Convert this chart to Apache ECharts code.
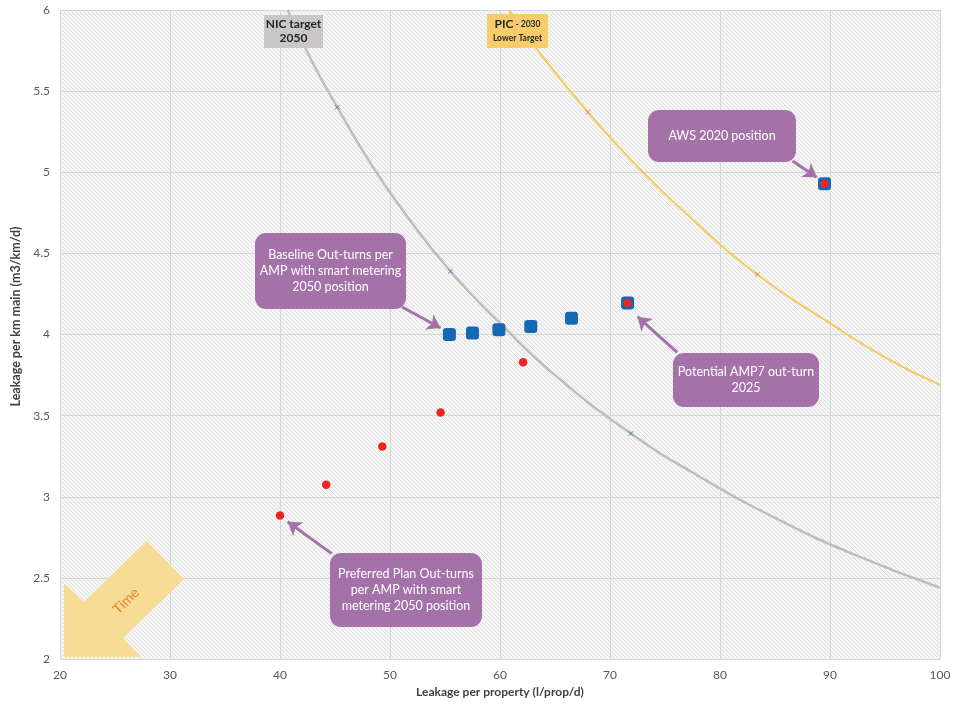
<!DOCTYPE html>
<html>
<head>
<meta charset="utf-8">
<title>Leakage positions</title>
<script src="https://cdn.jsdelivr.net/npm/echarts@6/dist/echarts.min.js"></script>
<style>
  html, body { margin: 0; padding: 0; background: #fff; }
  #main { width: 961px; height: 703px; }
</style>
</head>
<body>
<div id="main"></div>
<script>
// NIC target 2050 curve
var nicX = [40.7, 43, 45.3, 48, 51, 55.5, 60, 65, 71.9, 78, 85, 92, 100];
var nicY = [6.0, 5.67, 5.39, 5.08, 4.78, 4.39, 4.07, 3.75, 3.39, 3.13, 2.87, 2.65, 2.44];
var nicMarkX = [45.2, 55.5, 71.9];
var nicMarkY = [5.40, 4.39, 3.39];

// PIC 2030 lower target curve (yellow line)
var picX = [60.8, 64, 68, 72, 77, 83.4, 90, 95, 100];
var picY = [6.0, 5.70, 5.37, 5.07, 4.74, 4.37, 4.07, 3.86, 3.69];
var picMarkX = [68.0, 83.4];
var picMarkY = [5.37, 4.37];

// Baseline out-turns (blue squares)
var baseX = [55.4, 57.5, 59.9, 62.8, 66.5, 71.6, 89.5];
var baseY = [4.00, 4.01, 4.03, 4.05, 4.10, 4.195, 4.93];

// Preferred plan out-turns (red dots)
var prefX = [40.0, 44.2, 49.3, 54.6, 62.1, 71.6, 89.5];
var prefY = [2.885, 3.075, 3.31, 3.52, 3.83, 4.195, 4.93];

function pairs(xs, ys) {
	var out = [];
	for (var i = 0; i < xs.length; i++) out.push([xs[i], ys[i]]);
	return out;
}

// hatched plot background
var tile = document.createElement('canvas');
tile.width = 4; tile.height = 4;
var tc = tile.getContext('2d');
tc.fillStyle = '#f6f6f6';
tc.fillRect(0, 0, 4, 4);
tc.strokeStyle = '#dedede';
tc.lineWidth = 1;
tc.beginPath();
tc.moveTo(-1, -1); tc.lineTo(5, 5);
tc.moveTo(-1, 3); tc.lineTo(1, 5);
tc.moveTo(3, -1); tc.lineTo(5, 1);
tc.stroke();

var purple = '#a472a8';
var font = 'Lato, "Open Sans", sans-serif';
var cross = 'path://M0,1L1,0L5,4L9,0L10,1L6,5L10,9L9,10L5,6L1,10L0,9L4,5Z';

// purple callout: rounded box plus centred white text
function box(x, y, w, h, text) {
	return [
		{
			type: 'rect', z: 100,
			shape: {x: x, y: y, width: w, height: h, r: 11},
			style: {fill: purple}
		},
		{
			type: 'text', z: 101, x: x + w / 2, y: y + h / 2,
			style: {
				text: text, fill: '#fff', font: '12.5px ' + font,
				align: 'center', verticalAlign: 'middle', lineHeight: 16
			}
		}
	];
}

// arrows pointing at the marks, in data coordinates
var arrows = [
	[[86.6, 5.07], [88.8, 4.97]],
	[[51.1, 4.17], [54.6, 4.04]],
	[[76.1, 3.89], [72.5, 4.11]],
	[[44.7, 2.65], [40.7, 2.846]]
];

var chart = echarts.init(document.getElementById('main'));
var option = {
	backgroundColor: '#fff',
	animation: false,
	textStyle: {fontFamily: font},
	grid: {
		left: 60, right: 21, top: 10, bottom: 42,
		show: true, borderWidth: 0,
		backgroundColor: {image: tile, repeat: 'repeat'}
	},
	xAxis: {
		type: 'value', min: 20, max: 100, interval: 10,
		name: 'Leakage per property (l/prop/d)',
		nameLocation: 'middle', nameGap: 24,
		nameTextStyle: {fontWeight: 'bold', fontSize: 12, color: '#404040'},
		axisLine: {show: false}, axisTick: {show: false},
		axisLabel: {color: '#595959', fontSize: 12, margin: 10},
		splitLine: {lineStyle: {color: '#d6d6d6', width: 1}}
	},
	yAxis: {
		type: 'value', min: 2, max: 6, interval: 0.5,
		name: 'Leakage per km main (m3/km/d)',
		nameLocation: 'middle', nameGap: 28,
		nameTextStyle: {fontWeight: 'bold', fontSize: 12.5, color: '#404040', padding: [0, 0, 0, 36]},
		axisLine: {show: false}, axisTick: {show: false},
		axisLabel: {color: '#595959', fontSize: 12, margin: 10},
		splitLine: {lineStyle: {color: '#d6d6d6', width: 1}}
	},
	series: [
		{
			type: 'line', data: pairs(nicX, nicY), smooth: true, symbol: 'none',
			lineStyle: {color: '#bdbdbd', width: 2.5}, z: 2
		},
		{
			type: 'scatter', data: pairs(nicMarkX, nicMarkY), symbol: cross, symbolSize: 5,
			itemStyle: {color: '#5b7ec4', opacity: 1}, z: 3
		},
		{
			type: 'line', data: pairs(picX, picY), smooth: true, symbol: 'none',
			lineStyle: {color: '#f5c95c', width: 2}, z: 2
		},
		{
			type: 'scatter', data: pairs(picMarkX, picMarkY), symbol: cross, symbolSize: 5,
			itemStyle: {color: '#ec8a45', opacity: 1}, z: 3
		},
		{
			type: 'scatter', data: pairs(baseX, baseY),
			symbol: 'roundRect', symbolSize: 13,
			itemStyle: {color: '#1768b3', opacity: 1}, z: 4
		},
		{
			type: 'scatter', data: pairs(prefX, prefY),
			symbol: 'circle', symbolSize: 8.5,
			itemStyle: {color: '#ee2424', opacity: 1}, z: 5,
			markLine: {
				silent: true,
				symbol: ['none', 'arrow'], symbolSize: 13,
				label: {show: false},
				emphasis: {disabled: true},
				lineStyle: {color: purple, width: 3, type: 'solid', opacity: 1},
				data: arrows.map(function (a) {
					return [{coord: a[0]}, {coord: a[1]}];
				})
			}
		}
	],
	graphic: [
		{
			type: 'rect', z: 100,
			shape: {x: 264, y: 15, width: 59, height: 33},
			style: {fill: '#c9c7c7'}
		},
		{
			type: 'text', z: 101, x: 293.5, y: 31.5,
			style: {
				text: 'NIC target\n2050', fill: '#262626', font: 'bold 12px ' + font,
				align: 'center', verticalAlign: 'middle', lineHeight: 14
			}
		},
		{
			type: 'rect', z: 100,
			shape: {x: 487, y: 14, width: 61, height: 34},
			style: {fill: '#f7cc6b'}
		},
		{
			type: 'text', z: 101, x: 517.5, y: 31,
			style: {
				text: '{a|PIC}{b| - 2030}\n{b|Lower Target}',
				align: 'center', verticalAlign: 'middle',
				rich: {
					a: {font: 'bold 12px ' + font, fill: '#262626', lineHeight: 15},
					b: {font: 'bold 8.5px ' + font, fill: '#262626', lineHeight: 13}
				}
			}
		}
	]
		.concat(box(648, 110, 148, 52, 'AWS 2020 position'))
		.concat(box(255, 233, 151, 76, 'Baseline Out-turns per\nAMP with smart metering\n2050 position'))
		.concat(box(673, 353, 146, 54, 'Potential AMP7 out-turn\n2025'))
		.concat(box(330, 553, 152, 74, 'Preferred Plan Out-turns\nper AMP with smart\nmetering 2050 position'))
		.concat([
			{
				type: 'polygon', z: 90,
				shape: {points: [[64, 583], [84, 602], [147, 541], [184, 579], [123, 638], [141, 657], [64, 657]]},
				style: {fill: '#f7dc95'}
			},
			{
				type: 'text', z: 95, x: 126, y: 601, rotation: Math.PI / 4,
				style: {text: 'Time', fill: '#ed7d31', font: '14px ' + font, align: 'center', verticalAlign: 'middle'}
			}
		])
};
chart.setOption(option);
</script>
</body>
</html>
